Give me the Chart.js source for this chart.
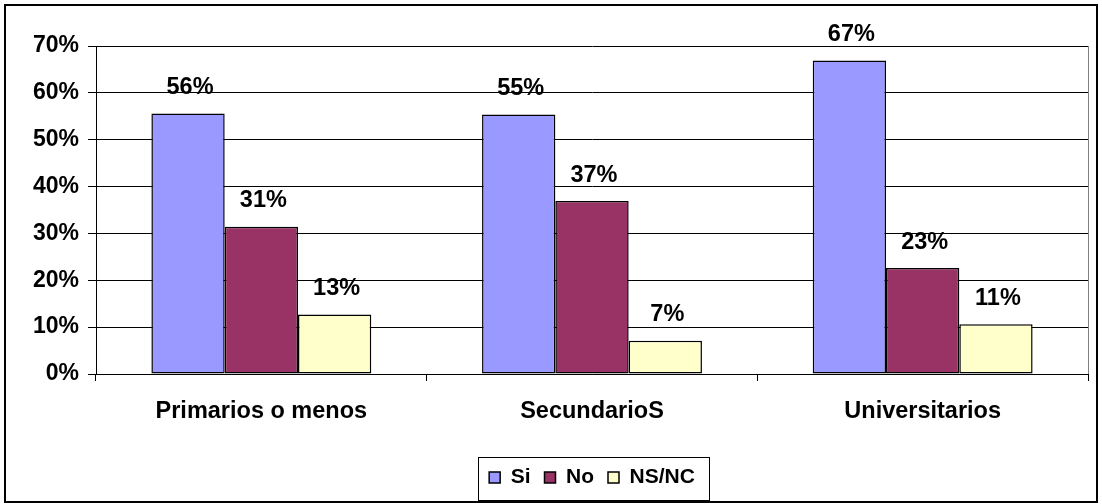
<!DOCTYPE html>
<html><head><meta charset="utf-8">
<script src="https://cdn.jsdelivr.net/npm/chart.js@4/dist/chart.umd.min.js"></script>
<style>html,body{margin:0;padding:0;background:#fff}#wrap{width:1102px;height:504px;position:relative}</style>
</head><body><div id="wrap"><canvas id="c" width="1102" height="504"></canvas></div>
<script>
const categories = ['Primarios o menos', 'SecundarioS', 'Universitarios'];
const seriesNames = ['Si', 'No', 'NS/NC'];
const siValues = [55.6, 55.4, 66.9];
const noValues = [31.4, 36.9, 22.6];
const nsncValues = [12.7, 7.1, 10.6];
const yTickValues = [0, 10, 20, 30, 40, 50, 60, 70];
const seriesColors = ['#9999FF', '#993366', '#FFFFCC'];

const FONT = '"Liberation Sans", Arial, sans-serif';
const PLOT = { left: 96, right: 1088, top: 46, bottom: 374 };

const framePlugin = {
  id: 'frames',
  beforeDraw(chart) {
    const c = chart.ctx;
    c.save(); c.fillStyle = '#fff'; c.fillRect(0, 0, chart.width, chart.height); c.restore();
  },
  afterLayout(chart) {
    const lg = chart.legend;
    if (!lg) return;
    const cx = (chart.chartArea.left + chart.chartArea.right) / 2;
    const dx = cx - (lg.left + lg.right) / 2;
    lg.left += dx; lg.right += dx;
    const dy = 453 - lg.top;
    lg.top += dy; lg.bottom += dy;
  },
  beforeDatasetsDraw(chart) {
    const c = chart.ctx, a = chart.chartArea;
    c.save();
    c.strokeStyle = '#808080'; c.lineWidth = 1;
    c.beginPath(); c.moveTo(Math.round(a.right) + 0.5, a.top); c.lineTo(Math.round(a.right) + 0.5, a.bottom); c.stroke();
    c.restore();
  },
  afterDatasetsDraw(chart) {
    const c = chart.ctx;
    c.save();
    c.font = 'bold 23.5px ' + FONT;
    c.fillStyle = '#000';
    c.textAlign = 'center';
    c.textBaseline = 'alphabetic';
    chart.data.datasets.forEach((ds, i) => {
      const meta = chart.getDatasetMeta(i);
      meta.data.forEach((bar, j) => {
        c.fillText(Math.round(ds.data[j]) + '%', bar.x + 2, bar.y - 19.5);
      });
    });
    c.restore();
  },
  afterDraw(chart) {
    const c = chart.ctx;
    c.save();
    c.strokeStyle = '#000';
    c.lineWidth = 2;
    c.strokeRect(5, 5, chart.width - 10, chart.height - 7);
    const hb = chart.legend && chart.legend.legendHitBoxes;
    if (hb && hb.length) {
      const l = hb[0].left - 11;
      const last = hb[hb.length - 1];
      const r = last.left + last.width + 14;
      const t = hb[0].top - 10;
      c.lineWidth = 1;
      c.strokeRect(Math.round(l) + 0.5, Math.round(t) + 0.5, Math.round(r - l), 43);
    }
    c.restore();
  }
};

new Chart(document.getElementById('c'), {
  type: 'bar',
  data: {
    labels: categories,
    datasets: [
      { label: seriesNames[0], data: siValues, backgroundColor: seriesColors[0] },
      { label: seriesNames[1], data: noValues, backgroundColor: seriesColors[1] },
      { label: seriesNames[2], data: nsncValues, backgroundColor: seriesColors[2] }
    ].map(d => Object.assign(d, { borderColor: '#000', borderWidth: 1.5, borderSkipped: false, categoryPercentage: 0.665, barPercentage: 1 }))
  },
  options: {
    responsive: false,
    animation: false,
    devicePixelRatio: 1,
    layout: { padding: { left: 0, right: 1102 - PLOT.right, top: PLOT.top, bottom: 0 } },
    plugins: {
      legend: {
        position: 'bottom',
        labels: { color: '#000', font: { family: FONT, size: 21, weight: 'bold' }, boxWidth: 11, boxHeight: 11, padding: 14 }
      },
      tooltip: { enabled: false }
    },
    scales: {
      x: {
        grid: { drawOnChartArea: false, drawTicks: true, tickLength: 7, color: '#000', offset: true },
        border: { display: true, color: '#000', width: 1 },
        ticks: { color: '#000', padding: 16, font: { family: FONT, size: 23.5, weight: 'bold' }, maxRotation: 0 },
        afterFit(scale) {
          const lh = scale.chart.legend ? scale.chart.legend.height : 0;
          scale.height = 504 - PLOT.bottom - lh;
        }
      },
      y: {
        min: 0, max: 70,
        afterBuildTicks(scale) { scale.ticks = yTickValues.map(v => ({ value: v })); },
        grid: { color: '#000', lineWidth: 1, tickLength: 8, drawTicks: true },
        border: { display: true, color: '#000', width: 1 },
        ticks: { color: '#000', padding: 9, font: { family: FONT, size: 23, weight: 'bold' }, callback: v => v + '%' },
        afterFit(scale) { scale.width = PLOT.left; }
      }
    }
  },
  plugins: [framePlugin]
});
</script>
</body></html>
